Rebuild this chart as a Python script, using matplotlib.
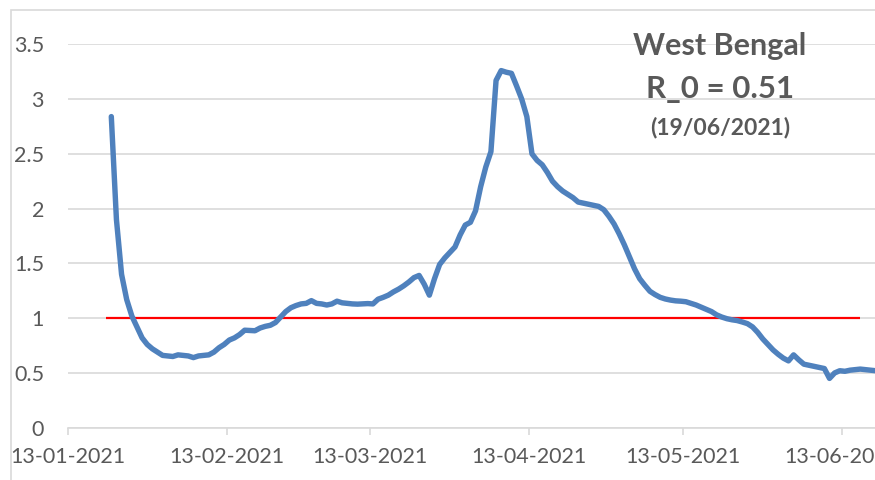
import matplotlib
matplotlib.use("Agg")
import matplotlib.pyplot as plt
import matplotlib.dates as mdates
from matplotlib.patches import Rectangle
import pandas as pd
import numpy as np

plt.rcParams['font.family'] = ['Lato', 'DejaVu Sans']

# ---- data ----
start_date = "2021-01-21"
end_date = "2021-06-19"
r_values = [
    2.84, 1.90, 1.40, 1.17, 1.02, 0.92, 0.82, 0.76, 0.72, 0.69,   # 21-01 .. 30-01
    0.66, 0.655, 0.65, 0.665, 0.66, 0.655, 0.64, 0.655, 0.66, 0.665,  # 31-01 .. 09-02
    0.69, 0.73, 0.76, 0.80, 0.82, 0.85, 0.89, 0.887, 0.885, 0.91,  # 10-02 .. 19-02
    0.925, 0.935, 0.96, 1.01, 1.06, 1.095, 1.115, 1.13, 1.135, 1.16,  # 20-02 .. 01-03
    1.135, 1.13, 1.12, 1.13, 1.155, 1.14, 1.135, 1.13, 1.128, 1.13,  # 02-03 .. 11-03
    1.133, 1.13, 1.173, 1.19, 1.21, 1.24, 1.265, 1.295, 1.33, 1.37,  # 12-03 .. 21-03
    1.39, 1.31, 1.21, 1.36, 1.49, 1.55, 1.60, 1.65, 1.76, 1.85,  # 22-03 .. 31-03
    1.875, 1.98, 2.20, 2.38, 2.52, 3.17, 3.26, 3.245, 3.235, 3.12,  # 01-04 .. 10-04
    3.00, 2.84, 2.50, 2.44, 2.40, 2.33, 2.25, 2.20, 2.16, 2.13,  # 11-04 .. 20-04
    2.10, 2.06, 2.05, 2.04, 2.03, 2.02, 1.99, 1.93, 1.86, 1.77,  # 21-04 .. 30-04
    1.67, 1.56, 1.45, 1.36, 1.30, 1.245, 1.215, 1.19, 1.175, 1.165,  # 01-05 .. 10-05
    1.158, 1.155, 1.15, 1.135, 1.12, 1.10, 1.08, 1.06, 1.03, 1.01,  # 11-05 .. 20-05
    0.995, 0.985, 0.978, 0.965, 0.95, 0.92, 0.87, 0.81, 0.76, 0.71,  # 21-05 .. 30-05
    0.67, 0.635, 0.61, 0.665, 0.62, 0.58, 0.57, 0.56, 0.55, 0.54,  # 31-05 .. 09-06
    0.45, 0.50, 0.52, 0.515, 0.525, 0.53, 0.535, 0.53, 0.525, 0.52,  # 10-06 .. 19-06
]
threshold_start = "2021-01-20"
threshold_end = "2021-06-16"
threshold_value = 1.0

tick_dates = ["2021-01-13", "2021-02-13", "2021-03-13", "2021-04-13", "2021-05-13", "2021-06-13"]
tick_labels = ["13-01-2021", "13-02-2021", "13-03-2021", "13-04-2021", "13-05-2021", "13-06-2021"]
y_ticks = [0, 0.5, 1, 1.5, 2, 2.5, 3, 3.5]
y_tick_labels = ["0", "0.5", "1", "1.5", "2", "2.5", "3", "3.5"]

title_lines = ["West Bengal", "R_0 = 0.51", "(19/06/2021)"]

# ---- build ----
dates = pd.date_range(start_date, end_date, freq="D")
thr_dates = pd.to_datetime([threshold_start, threshold_end])
half_day = pd.Timedelta(hours=12)
tick_pos = pd.to_datetime(tick_dates) - half_day

W, H = 875, 480
fig = plt.figure(figsize=(W / 100, H / 100), dpi=100)
fig.patch.set_facecolor("white")

# chart border
fig.patches.append(Rectangle((11 / W, -0.1), 1.2, (H - 10) / H + 0.1,
                             transform=fig.transFigure, fill=False,
                             edgecolor="#d9d9d9", linewidth=1.2))

px_per_day = 5.13
left_px = 67.7
x0 = tick_pos[0]
ndays_axis = 165
ax_w = ndays_axis * px_per_day / W
ax = fig.add_axes([left_px / W, (H - 427.7) / H, ax_w, 383.4 / H])
ax.set_xlim(x0, x0 + pd.Timedelta(days=ndays_axis))
ax.set_ylim(0, 3.5)

grid_c = "#d9d9d9"
for s in ["top", "right", "left"]:
    ax.spines[s].set_visible(False)
ax.spines["bottom"].set_color(grid_c)
ax.spines["bottom"].set_linewidth(1.2)

ax.yaxis.grid(True, color=grid_c, linewidth=1.2)
ax.set_axisbelow(True)

ax.plot(thr_dates, [threshold_value, threshold_value], color="#ff0000", linewidth=1.6,
        solid_capstyle="butt", zorder=2)
ax.plot(dates, r_values, color="#4f81bd", linewidth=3.9, solid_joinstyle="round",
        solid_capstyle="round", zorder=3)

ax.set_xticks(tick_pos)
ax.set_xticklabels(tick_labels)
ax.set_yticks(y_ticks)
ax.set_yticklabels(y_tick_labels)
ax.tick_params(axis="x", length=5, width=1.2, color=grid_c, pad=9,
               labelsize=15.5, labelcolor="#595959")
ax.tick_params(axis="y", length=0, pad=17, labelsize=15.5, labelcolor="#595959")

txt_c = "#595959"
fig.text(720 / W, 1 - 46 / H, title_lines[0], ha="center", va="center",
         fontsize=22, fontweight="bold", color=txt_c)
fig.text(720 / W, 1 - 89 / H, title_lines[1], ha="center", va="center",
         fontsize=22.5, fontweight="bold", color=txt_c)
fig.text(720 / W, 1 - 128 / H, title_lines[2], ha="center", va="center",
         fontsize=16.5, fontweight="bold", color=txt_c)

fig.savefig("out.png", dpi=100)
